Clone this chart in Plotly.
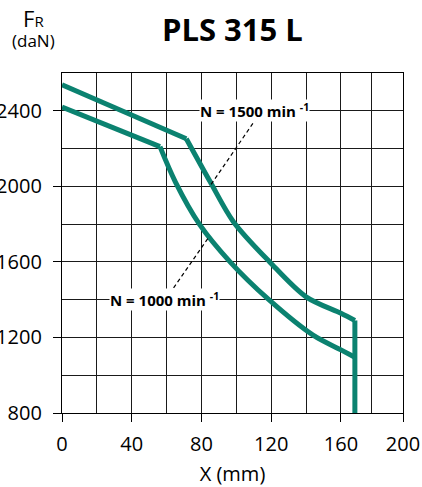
import plotly.graph_objects as go

# ---- data ----
upper_line_x = [0, 71.3]
upper_line_y = [2538, 2252]
upper_curve_x = [71.3, 85, 98.3, 119, 140, 160, 168]
upper_curve_y = [2252, 2024, 1813, 1601, 1415, 1328, 1290]
end_x = [168, 168]
end_y = [1290, 800]

lower_line_x = [0, 56.2]
lower_line_y = [2420, 2210]
lower_curve_x = [56.2, 65, 79, 96.4, 118, 144, 160, 168]
lower_curve_y = [2210, 2024, 1797, 1600, 1405, 1212, 1134, 1095]

lead1000_x = [64, 84]
lead1000_y = [1462, 1728]
lead1500_x = [85.5, 111.5]
lead1500_y = [2010, 2360]

label1500 = (110.6, 2400, "N = 1500 min <sup>-1</sup>")
label1000 = (58.9, 1400, "N = 1000 min <sup>-1</sup>")

x_tickvals = [0, 40, 80, 120, 160, 195.6]
x_ticktext = ["0", "40", "80", "120", "160", "200"]
x_minor = [20, 60, 100, 140, 177.8]

TEAL = "#0b8270"
GRID = "#1a1a1a"
FONT = "Open Sans"

fig = go.Figure()
for xs, ys, shape in [(upper_line_x, upper_line_y, "linear"),
                      (upper_curve_x, upper_curve_y, "spline"),
                      (end_x, end_y, "linear"),
                      (lower_line_x, lower_line_y, "linear"),
                      (lower_curve_x, lower_curve_y, "spline")]:
    fig.add_trace(go.Scatter(x=xs, y=ys, mode="lines",
                             line=dict(color=TEAL, width=5, shape=shape, smoothing=0.9),
                             hoverinfo="skip"))
for lx, ly in [(lead1000_x, lead1000_y), (lead1500_x, lead1500_y)]:
    fig.add_trace(go.Scatter(x=lx, y=ly, mode="lines",
                             line=dict(color="black", width=1.2, dash="4px,3px"),
                             hoverinfo="skip"))

for (ax, ay, txt) in [label1500, label1000]:
    fig.add_annotation(x=ax, y=ay, text=txt, showarrow=False,
                       font=dict(family=FONT, size=15, color="black", weight="bold"),
                       bgcolor="white", borderpad=0, xanchor="center", yanchor="middle")

W, H = 422, 487
L, R, T, B = 62, 19, 73, 74
pw, ph = W - L - R, H - T - B

def px(xp):
    return (xp - L) / pw

def py(yp):
    return (H - B - yp) / ph

fig.add_annotation(xref="paper", yref="paper", x=px(232), y=py(29),
                   text="<b>PLS 315 L</b>", showarrow=False,
                   font=dict(family=FONT, size=31, color="black"),
                   xanchor="center", yanchor="middle")
fig.add_annotation(xref="paper", yref="paper", x=px(33), y=py(27),
                   text="<span style='font-size:22px'>F</span>R<br><span style='font-size:17px'>(daN)</span>",
                   showarrow=False, align="center",
                   font=dict(family=FONT, size=15, color="black"),
                   xanchor="center", yanchor="middle")

fig.update_layout(
    width=W, height=H,
    margin=dict(l=L, r=R, t=T, b=B, autoexpand=False),
    plot_bgcolor="white", paper_bgcolor="white",
    showlegend=False,
    font=dict(family=FONT, size=20, color="black"),
    xaxis=dict(range=[0, 195.6], tickmode="array", tickvals=x_tickvals, ticktext=x_ticktext,
               ticks="outside", ticklen=8, tickwidth=1.3, tickcolor="black",
               showgrid=True, gridcolor=GRID, gridwidth=1.3,
               showline=True, mirror=True, linecolor="black", linewidth=1.3,
               zeroline=False, automargin=False, ticklabelstandoff=5,
               minor=dict(tickmode="array", tickvals=x_minor, showgrid=True,
                          gridcolor=GRID, gridwidth=1.3, ticklen=0),
               tickfont=dict(size=20),
               title=dict(text="X (mm)", font=dict(size=20), standoff=12)),
    yaxis=dict(range=[800, 2600], tick0=800, dtick=400,
               ticks="outside", ticklen=8, tickwidth=1.3, tickcolor="black",
               showgrid=True, gridcolor=GRID, gridwidth=1.3,
               showline=True, mirror=True, linecolor="black", linewidth=1.3,
               zeroline=False, automargin=False, ticklabelstandoff=7,
               minor=dict(tick0=800, dtick=200, showgrid=True,
                          gridcolor=GRID, gridwidth=1.3, ticklen=0),
               tickfont=dict(size=20)),
)

fig.write_html("out.html", config={"displayModeBar": False},
               post_script="document.body.style.margin='0';")
